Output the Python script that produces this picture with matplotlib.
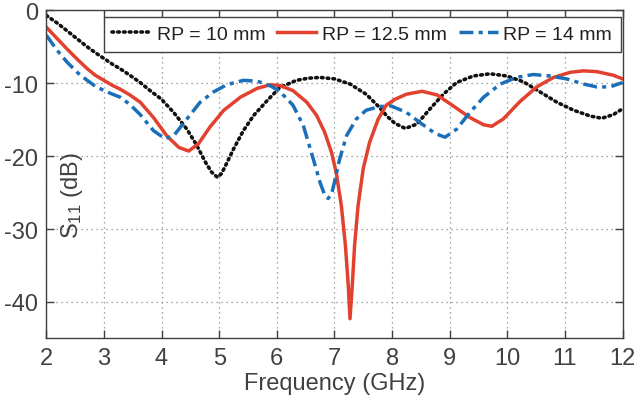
import matplotlib
matplotlib.use("Agg")
import matplotlib.pyplot as plt

plt.rcParams['font.family'] = ['Liberation Sans', 'DejaVu Sans']
plt.rcParams['mathtext.fontset'] = 'custom'
plt.rcParams['mathtext.rm'] = 'Liberation Sans'
plt.rcParams['mathtext.it'] = 'Liberation Sans'
plt.rcParams['axes.unicode_minus'] = False

freq_10 = [2.0, 2.2, 2.36, 2.55, 2.71, 2.85, 3.0, 3.15, 3.28, 3.45, 3.63, 3.8, 4.0, 4.21, 4.44,
           4.61, 4.76, 4.87, 4.97, 5.04, 5.11, 5.25, 5.42, 5.6, 5.83, 6.05, 6.34, 6.55, 6.75, 7.0,
           7.27, 7.55, 7.78, 7.91, 8.05, 8.23, 8.43, 8.66, 8.89, 9.12, 9.41, 9.7, 9.99, 10.28, 10.57,
           10.86, 11.15, 11.44, 11.64, 11.84, 12.0]
s11_10 = [-0.7, -1.8, -2.8, -4.0, -5.0, -5.8, -6.6, -7.4, -8.0, -8.9, -9.9, -11.0, -12.2, -14.0, -16.3,
          -18.5, -20.8, -22.2, -22.9, -22.4, -21.3, -19.0, -16.5, -14.4, -12.4, -10.6, -9.6, -9.3, -9.2, -9.4,
          -10.1, -11.5, -13.3, -14.5, -15.5, -16.2, -15.6, -13.5, -11.5, -9.9, -9.0, -8.7, -9.0, -9.8, -11.2,
          -12.6, -13.7, -14.5, -14.8, -14.3, -13.5]

freq_125 = [2.0, 2.18, 2.36, 2.55, 2.71, 2.85, 3.0, 3.15, 3.28, 3.45, 3.63, 3.86, 4.09, 4.3, 4.47,
            4.64, 4.84, 5.08, 5.37, 5.66, 5.89, 6.05, 6.28, 6.52, 6.69, 6.83, 6.95, 7.03, 7.12, 7.19,
            7.24, 7.27, 7.31, 7.35, 7.41, 7.5, 7.61, 7.76, 7.9, 8.05, 8.25, 8.52, 8.78, 9.06, 9.35,
            9.59, 9.73, 9.93, 10.22, 10.51, 10.8, 11.09, 11.32, 11.55, 11.84, 12.0]
s11_125 = [-2.3, -3.8, -5.3, -6.8, -8.0, -8.9, -9.6, -10.3, -10.8, -11.6, -12.6, -14.7, -17.2, -18.8, -19.3,
           -18.3, -16.0, -13.7, -11.9, -10.7, -10.2, -10.3, -11.0, -12.6, -14.4, -16.7, -19.5, -22.2, -26.8, -32.2,
           -37.7, -42.3, -37.7, -32.2, -26.8, -21.7, -18.1, -14.9, -13.0, -12.2, -11.5, -11.1, -11.6, -13.1, -14.7,
           -15.7, -15.9, -14.9, -12.5, -10.5, -9.2, -8.5, -8.3, -8.4, -8.9, -9.4]

freq_14 = [2.0, 2.18, 2.36, 2.55, 2.71, 2.85, 3.0, 3.15, 3.28, 3.45, 3.63, 3.86, 4.06, 4.21, 4.44,
           4.67, 4.9, 5.13, 5.42, 5.66, 5.9, 6.05, 6.28, 6.46, 6.6, 6.75, 6.83, 6.89, 6.95, 7.0,
           7.09, 7.21, 7.38, 7.55, 7.78, 7.98, 8.25, 8.52, 8.75, 8.92, 9.12, 9.35, 9.59, 9.88, 10.16,
           10.45, 10.74, 11.03, 11.32, 11.55, 11.78, 12.0]
s11_14 = [-3.4, -5.4, -7.1, -8.6, -9.6, -10.4, -11.0, -11.5, -11.9, -12.9, -14.3, -16.5, -17.6, -17.2, -14.9,
          -12.6, -11.2, -10.2, -9.6, -9.7, -10.4, -11.1, -13.0, -15.8, -19.5, -23.6, -25.3, -25.8, -25.2, -23.6,
          -20.4, -17.2, -14.9, -13.7, -13.2, -13.1, -14.0, -15.6, -16.9, -17.4, -16.3, -14.0, -11.9, -10.1, -9.2,
          -8.8, -9.0, -9.4, -10.1, -10.5, -10.5, -9.9]

labels = ['RP = 10 mm', 'RP = 12.5 mm', 'RP = 14 mm']
x_ticks = [2, 3, 4, 5, 6, 7, 8, 9, 10, 11, 12]
y_ticks = [0, -10, -20, -30, -40]

txt = '#404040'
fig = plt.figure(figsize=(6.34, 4.06), dpi=100)
ax = fig.add_axes([0.073, 0.164, 0.909, 0.808])

ax.plot(freq_10, s11_10, color='#111111', linestyle=(0, (0.45, 1.15)), linewidth=2.6,
        dash_capstyle='round', label=labels[0])
ax.plot(freq_125, s11_125, color='#E2412F', linestyle='-', linewidth=2.5, label=labels[1])
ax.plot(freq_14, s11_14, color='#1A6FB8', linestyle=(0, (4.0, 1.5, 1.2, 1.5)), linewidth=2.5,
        label=labels[2])

ax.set_xlim(2, 12)
ax.set_ylim(-45, 0)
ax.set_xticks(x_ticks)
ax.set_yticks(y_ticks)
ax.grid(True, linestyle=(0, (1, 3)), color='#888888', linewidth=0.9)
ax.tick_params(direction='in', top=True, right=True, length=6, width=1,
               labelsize=17, colors=txt, pad=6)
for s in ax.spines.values():
    s.set_color('#404040')
    s.set_linewidth(1.0)

ax.set_xlabel('Frequency (GHz)', fontsize=17, color=txt, labelpad=2)
ax.set_ylabel('S$_{11}$ (dB)', fontsize=17, color=txt)
ax.yaxis.set_label_coords(0.068, 0.437)

leg = ax.legend(loc='upper right', bbox_to_anchor=(0.997, 0.98), ncol=3, fontsize=14,
                frameon=True, fancybox=False, edgecolor='#404040', framealpha=1,
                handlelength=2.0, handletextpad=0.3, columnspacing=0.6,
                borderpad=0.45, borderaxespad=0.0)
leg.get_frame().set_linewidth(1.0)
for t in leg.get_texts():
    t.set_color('#222222')

fig.savefig('out.png', dpi=100)
